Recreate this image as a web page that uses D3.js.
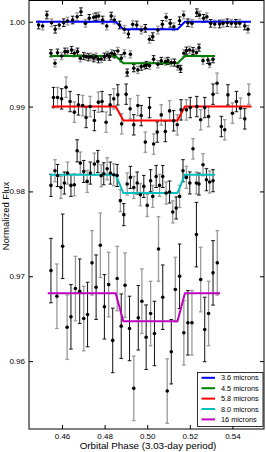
<!DOCTYPE html>
<html>
<head>
<meta charset="utf-8">
<script src="https://d3js.org/d3.v7.min.js"></script>
<style>
    body { margin: 0; background: #fff; }
    text { font-family: "Liberation Sans", Arial, sans-serif; }
</style>
</head>
<body>
<div id="chart"></div>
<script>
// phases and fluxes, one pair of arrays per band
const phase36 = [0.4490,0.4509,0.4529,0.4551,0.4568,0.4587,0.4608,0.4626,0.4650,0.4671,0.4689,0.4710,0.4728,0.4749,0.4760,0.4772,0.4791,0.4810,0.4831,0.4846,0.4870,0.4893,0.4912,0.4932,0.4951,0.4972,0.4991,0.5011,0.5026,0.5050,0.5071,0.5089,0.5108,0.5125,0.5152,0.5171,0.5191,0.5210,0.5233,0.5246,0.5265,0.5280,0.5298,0.5317,0.5340,0.5356,0.5376,0.5395,0.5416,0.5434,0.5458,0.5473];
const flux36 = [0.99961,0.99949,1.00079,0.99988,0.99911,0.99961,0.99988,1.00008,1.00020,1.00059,1.00118,0.99981,1.00040,1.00052,1.00059,1.00067,1.00020,0.99949,1.00067,1.00020,0.99961,0.99911,0.99855,0.99969,0.99961,0.99902,0.99922,0.99793,0.99824,0.99902,0.99969,1.00052,0.99981,0.99941,1.00012,1.00079,0.99988,0.99981,1.00106,1.00079,1.00040,1.00059,0.99981,0.99973,0.99973,0.99981,0.99988,0.99981,0.99981,0.99981,0.99949,0.99911];

const phase45 = [0.4548,0.4567,0.4579,0.4598,0.4614,0.4626,0.4645,0.4658,0.4673,0.4686,0.4702,0.4713,0.4725,0.4736,0.4749,0.4760,0.4771,0.4784,0.4799,0.4812,0.4823,0.4833,0.4846,0.4862,0.4878,0.4893,0.4906,0.4921,0.4937,0.4956,0.4972,0.4987,0.4997,0.5011,0.5030,0.5050,0.5066,0.5085,0.5097,0.5113,0.5128,0.5144,0.5157,0.5172,0.5184,0.5199,0.5215,0.5231,0.5243,0.5262,0.5285,0.5293,0.5309];
const flux45 = [0.99628,0.99511,0.99635,0.99596,0.99647,0.99647,0.99667,0.99628,0.99647,0.99569,0.99596,0.99588,0.99581,0.99588,0.99569,0.99588,0.99558,0.99561,0.99588,0.99608,0.99588,0.99628,0.99616,0.99655,0.99569,0.99628,0.99400,0.99616,0.99452,0.99432,0.99471,0.99479,0.99490,0.99482,0.99558,0.99499,0.99538,0.99529,0.99538,0.99518,0.99518,0.99471,0.99444,0.99628,0.99659,0.99667,0.99655,0.99635,0.99694,0.99541,0.99549,0.99502,0.99558];

const phase58 = [0.4560,0.4579,0.4598,0.4619,0.4638,0.4658,0.4677,0.4697,0.4713,0.4732,0.4752,0.4771,0.4788,0.4807,0.4826,0.4843,0.4862,0.4880,0.4901,0.4920,0.4937,0.4956,0.4972,0.4991,0.5011,0.5030,0.5047,0.5066,0.5085,0.5105,0.5124,0.5141,0.5159,0.5184,0.5202,0.5215,0.5233,0.5251,0.5270,0.5288,0.5309,0.5328,0.5348,0.5364,0.5379,0.5400,0.5419,0.5438,0.5458,0.5477];
const flux58 = [0.99106,0.99106,0.99091,0.99228,0.99059,0.98934,0.99020,0.99012,0.98871,0.99000,0.98835,0.99052,0.99059,0.98816,0.99020,0.99091,0.99138,0.98796,0.99146,0.98973,0.98785,0.99012,0.98894,0.98581,0.98988,0.98558,0.98699,0.98902,0.98706,0.98949,0.98832,0.98785,0.98961,0.98961,0.98988,0.98502,0.99000,0.98844,0.98988,0.98882,0.99146,0.99275,0.98765,0.98726,0.99138,0.98922,0.99059,0.98981,0.98855,0.99146];

const phase80 = [0.4548,0.4567,0.4579,0.4595,0.4611,0.4626,0.4642,0.4658,0.4671,0.4686,0.4702,0.4718,0.4733,0.4752,0.4768,0.4784,0.4796,0.4812,0.4827,0.4843,0.4859,0.4874,0.4890,0.4906,0.4921,0.4937,0.4953,0.4968,0.4984,0.5000,0.5016,0.5026,0.5042,0.5058,0.5073,0.5089,0.5105,0.5120,0.5136,0.5152,0.5168,0.5184,0.5200,0.5231,0.5243,0.5262,0.5278,0.5293,0.5309];
const flux80 = [0.98071,0.98244,0.98188,0.98047,0.98099,0.98216,0.98071,0.98079,0.98479,0.98334,0.98235,0.98118,0.98216,0.98322,0.98353,0.98185,0.98208,0.98267,0.98216,0.98196,0.98188,0.97891,0.97726,0.98087,0.98165,0.98047,0.98099,0.97961,0.98059,0.97835,0.98126,0.97941,0.98176,0.98071,0.98176,0.97981,0.97993,0.97758,0.97805,0.97941,0.98244,0.98165,0.98100,0.98099,0.98087,0.98314,0.98138,0.98111,0.98126];

const phase16 = [0.4548,0.4576,0.4603,0.4624,0.4642,0.4663,0.4683,0.4702,0.4720,0.4741,0.4760,0.4780,0.4799,0.4819,0.4838,0.4859,0.4878,0.4896,0.4917,0.4937,0.4958,0.4975,0.4995,0.5016,0.5034,0.5053,0.5073,0.5094,0.5113,0.5132,0.5152,0.5172,0.5191,0.5210,0.5231,0.5251,0.5270,0.5288,0.5309,0.5329];
const flux16 = [0.97067,0.96765,0.97353,0.96400,0.96522,0.96855,0.96824,0.96502,0.96549,0.97158,0.96871,0.97365,0.96640,0.96902,0.96244,0.96973,0.96412,0.96894,0.96385,0.95679,0.96511,0.96706,0.96282,0.96561,0.96326,0.97322,0.96753,0.95647,0.96111,0.96844,0.97000,0.96334,0.96452,0.96452,0.97491,0.96961,0.96373,0.96561,0.97040,0.97158];

// one error size per band
const fluxErr = [0.00045, 0.00042, 0.0012, 0.0013, 0.0038];

// box-shaped eclipse models
const seriesNames = ["3.6 microns", "4.5 microns", "5.8 microns", "8.0 microns", "16 microns"];
const modelBase = [1.0000, 0.99596, 0.9900, 0.98196, 0.9680];
const modelDip = [0.99911, 0.99511, 0.98835, 0.97981, 0.96471];
const modelStart = [0.4478, 0.4544, 0.4552, 0.4544, 0.4533];
const modelEnd = [0.5487, 0.5318, 0.5490, 0.5318, 0.5342];
const contactPhases = [0.4852, 0.4888, 0.5142, 0.5177];

const xTicks = [0.46, 0.48, 0.50, 0.52, 0.54];
const yTicks = [0.96, 0.97, 0.98, 0.99, 1.00];

const colors = ["#0000ff", "#008000", "#ff0000", "#00bfbf", "#bf00bf"];

const width = 266, height = 452;
const plotLeft = 29, plotRight = 264, plotTop = 0.5, plotBottom = 429;

let phases = [phase36, phase45, phase58, phase80, phase16];
let fluxes = [flux36, flux45, flux58, flux80, flux16];

let svg = d3.select("#chart").append("svg")
    .attr("width", width)
    .attr("height", height);

let x = d3.scaleLinear().domain([0.4445, 0.5553]).range([plotLeft, 265]);
let y = d3.scaleLinear().domain([0.952, 1.0025]).range([plotBottom, plotTop]);

// error bars, alternating black and grey like the original
let points = [];
phases.forEach((ph, s) => {
    ph.forEach((p, i) => {
        points.push({s: s, i: i, phase: p, flux: fluxes[s][i], err: fluxErr[s]});
    });
});

let bars = svg.append("g").attr("class", "errorbars")
    .selectAll("g")
    .data(points)
    .enter()
    .append("g")
    .attr("stroke", d => d.i % 2 ? "#9a9a9a" : "#111")
    .attr("stroke-width", d => d.i % 2 ? 1.3 : 1);

bars.append("line")
    .attr("x1", d => x(d.phase))
    .attr("x2", d => x(d.phase))
    .attr("y1", d => y(d.flux - d.err))
    .attr("y2", d => y(d.flux + d.err));

bars.append("line")
    .attr("x1", d => x(d.phase) - 1.8)
    .attr("x2", d => x(d.phase) + 1.8)
    .attr("y1", d => y(d.flux + d.err))
    .attr("y2", d => y(d.flux + d.err));

bars.append("line")
    .attr("x1", d => x(d.phase) - 1.8)
    .attr("x2", d => x(d.phase) + 1.8)
    .attr("y1", d => y(d.flux - d.err))
    .attr("y2", d => y(d.flux - d.err));

// model lines
function modelPoints(s) {
    return [
        [modelStart[s], modelBase[s]],
        [contactPhases[0], modelBase[s]],
        [contactPhases[1], modelDip[s]],
        [contactPhases[2], modelDip[s]],
        [contactPhases[3], modelBase[s]],
        [modelEnd[s], modelBase[s]]
    ];
}

let line = d3.line().x(d => x(d[0])).y(d => y(d[1]));

svg.append("g").attr("class", "models")
    .selectAll("path")
    .data(seriesNames.map((n, s) => modelPoints(s)))
    .enter()
    .append("path")
    .attr("d", line)
    .attr("fill", "none")
    .attr("stroke", (d, s) => colors[s])
    .attr("stroke-width", 2);

svg.append("g").attr("class", "points")
    .selectAll("circle")
    .data(points)
    .enter()
    .append("circle")
    .attr("cx", d => x(d.phase))
    .attr("cy", d => y(d.flux))
    .attr("r", 1.8)
    .attr("fill", "#000");

// axes, ticks pointing inward on all four sides
let xAxis = svg.append("g")
    .attr("transform", `translate(0,${plotBottom})`)
    .call(d3.axisBottom(x).tickValues(xTicks).tickSize(-4).tickPadding(4).tickFormat(d3.format(".2f")));
let yAxis = svg.append("g")
    .attr("transform", `translate(${plotLeft},0)`)
    .call(d3.axisLeft(y).tickValues(yTicks).tickSize(-4).tickPadding(4).tickFormat(d3.format(".2f")));
let xTop = svg.append("g")
    .attr("transform", `translate(0,${plotTop})`)
    .call(d3.axisTop(x).tickValues(xTicks).tickSize(-4).tickFormat(""));
let yRight = svg.append("g")
    .attr("transform", `translate(${plotRight},0)`)
    .call(d3.axisRight(y).tickValues(yTicks).tickSize(-4).tickFormat(""));

[xAxis, yAxis, xTop, yRight].forEach(a => {
    a.select(".domain").remove();
    a.selectAll("text").attr("font-size", 8).attr("fill", "#000")
        .attr("font-family", "Liberation Sans, Arial, sans-serif");
    a.selectAll("line").attr("stroke", "#000");
});

svg.append("rect")
    .attr("x", plotLeft)
    .attr("y", plotTop)
    .attr("width", plotRight - plotLeft)
    .attr("height", plotBottom - plotTop)
    .attr("fill", "none")
    .attr("stroke", "#000")
    .attr("stroke-width", 1);

svg.append("text")
    .attr("x", 148)
    .attr("y", 449)
    .attr("text-anchor", "middle")
    .attr("font-size", 9.8)
    .text("Orbital Phase (3.03-day period)");

svg.append("text")
    .attr("transform", "translate(8.5,216) rotate(-90)")
    .attr("text-anchor", "middle")
    .attr("font-size", 9.5)
    .text("Normalized Flux");

// legend
let legend = svg.append("g").attr("transform", "translate(197.5,372.5)");
legend.append("rect")
    .attr("width", 65.5)
    .attr("height", 54)
    .attr("fill", "#fff")
    .attr("stroke", "#000")
    .attr("stroke-width", 0.8);

let entry = legend.selectAll("g.entry")
    .data(seriesNames)
    .enter()
    .append("g")
    .attr("class", "entry")
    .attr("transform", (d, i) => `translate(0,${5.3 + i * 10.4})`);

entry.append("line")
    .attr("x1", 4)
    .attr("x2", 17.5)
    .attr("stroke", (d, i) => colors[i])
    .attr("stroke-width", 2);

entry.append("text")
    .attr("x", 23.5)
    .attr("dy", "0.35em")
    .attr("font-size", 7.3)
    .text(d => d);
</script>
</body>
</html>
